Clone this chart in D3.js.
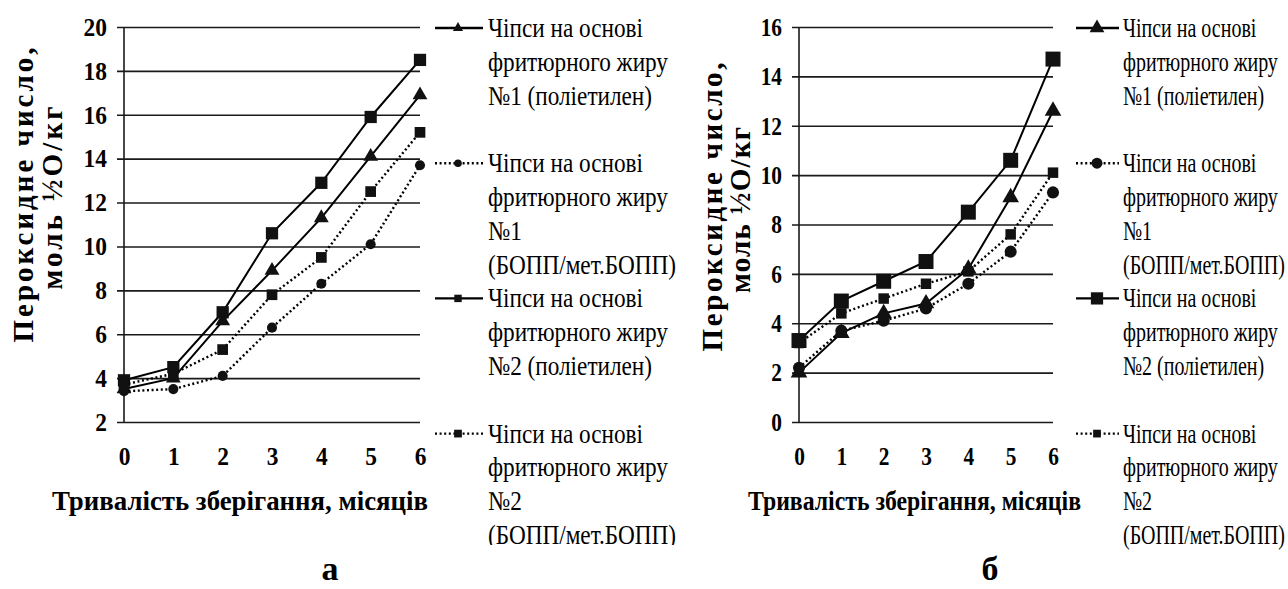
<!DOCTYPE html>
<html>
<head>
    <meta charset="UTF-8">
    <title>Пероксидне число чіпсів</title>
    <script src="https://cdn.jsdelivr.net/npm/d3@7/dist/d3.min.js"></script>
    <style>
        body { margin: 0; background: #fff; }
    </style>
</head>
<body>
<script>
// дані
var months = [0, 1, 2, 3, 4, 5, 6];
var seriesLabels = [
    ["Чіпси на основі", "фритюрного жиру", "№1 (поліетилен)"],
    ["Чіпси на основі", "фритюрного жиру", "№1", "(БОПП/мет.БОПП)"],
    ["Чіпси на основі", "фритюрного жиру", "№2 (поліетилен)"],
    ["Чіпси на основі", "фритюрного жиру", "№2", "(БОПП/мет.БОПП)"]
];
// а
var aFat1PE   = [3.5, 4.0, 6.6, 8.9, 11.3, 14.1, 16.9];
var aFat1BOPP = [3.4, 3.5, 4.1, 6.3, 8.3, 10.1, 13.7];
var aFat2PE   = [3.9, 4.5, 7.0, 10.6, 12.9, 15.9, 18.5];
var aFat2BOPP = [3.7, 4.2, 5.3, 7.8, 9.5, 12.5, 15.2];
// б
var bFat1PE   = [2.0, 3.6, 4.4, 4.8, 6.2, 9.1, 12.6];
var bFat1BOPP = [2.2, 3.7, 4.1, 4.6, 5.6, 6.9, 9.3];
var bFat2PE   = [3.3, 4.9, 5.7, 6.5, 8.5, 10.6, 14.7];
var bFat2BOPP = [3.2, 4.4, 5.0, 5.6, 6.1, 7.6, 10.1];

var aYTicks = [2, 4, 6, 8, 10, 12, 14, 16, 18, 20];
var bYTicks = [0, 2, 4, 6, 8, 10, 12, 14, 16];
var xTitle = "Тривалість зберігання, місяців";
var yTitleLines = ["Пероксидне число,", "моль ½О/кг"];
var panelLetters = ["а", "б"];

var FONT = "'Liberation Serif'";
var width = 1288, height = 589;
var svg = d3.select("body").append("svg")
    .attr("width", width).attr("height", height);

// стиль ліній і маркерів для кожної серії
var styles = [
    {dash: null, sym: d3.symbolTriangle},
    {dash: "2,2.6", sym: d3.symbolCircle},
    {dash: null, sym: d3.symbolSquare},
    {dash: "2,2.6", sym: d3.symbolSquare}
];

var panels = [
    {
        series: [aFat1PE, aFat1BOPP, aFat2PE, aFat2BOPP], ticks: aYTicks,
        x: [124, 420], y: [422, 27], squeeze: 0.9, labelSqueeze: 0.86,
        markSize: [95, 80, 150, 115], legSize: [45, 45, 55, 60],
        yTitle: [{x: 33, y: 195, len: 295}, {x: 62, y: 198, len: 183}],
        xTitle: {x: 52, len: 376}, leg: {x0: 435, x1: 483, mx: 458, tx: 488},
        letterX: 330, clip: 545
    },
    {
        series: [bFat1PE, bFat1BOPP, bFat2PE, bFat2BOPP], ticks: bYTicks,
        x: [799, 1053], y: [422, 27], squeeze: 0.82, labelSqueeze: 0.74,
        markSize: [120, 115, 225, 110], legSize: [95, 95, 150, 60],
        yTitle: [{x: 722, y: 207, len: 289}, {x: 750, y: 210, len: 166}],
        xTitle: {x: 748, len: 333}, leg: {x0: 1076, x1: 1119, mx: 1097, tx: 1123},
        letterX: 990, clip: 589
    }
];

// стискання тексту по горизонталі
function squeeze(sel, k) {
    sel.each(function() {
        var len = this.getComputedTextLength();
        d3.select(this).attr("textLength", len * k).attr("lengthAdjust", "spacingAndGlyphs");
    });
}

function serif(sel, size, bold) {
    sel.style("font-family", FONT)
        .style("font-size", size + "px")
        .style("font-weight", bold ? "bold" : "normal")
        .attr("fill", "#000");
}

panels.forEach(function(p, pi) {
    var x = d3.scaleLinear().domain([0, 6]).range(p.x);
    var y = d3.scaleLinear().domain([p.ticks[0], p.ticks[p.ticks.length - 1]]).range(p.y);
    var g = svg.append("g");

    // сітка + підписи осі Y
    var yAxis = g.append("g")
        .attr("transform", "translate(" + (p.x[0] - 7) + ",0)")
        .call(d3.axisLeft(y).tickValues(p.ticks).tickFormat(d3.format("d"))
            .tickSize(-(p.x[1] - p.x[0] + 7)).tickPadding(10));
    yAxis.attr("font-family", null);
    yAxis.select(".domain").remove();
    yAxis.selectAll("line").attr("stroke", "#1a1a1a").attr("stroke-width", 1.6);
    yAxis.selectAll("text").call(serif, 26, true).call(squeeze, p.squeeze);

    // вертикальна вісь
    g.append("line")
        .attr("x1", p.x[0]).attr("x2", p.x[0])
        .attr("y1", p.y[1]).attr("y2", p.y[0])
        .attr("stroke", "#1a1a1a").attr("stroke-width", 1.6);

    // підписи осі X
    var xAxis = g.append("g")
        .attr("transform", "translate(0," + p.y[0] + ")")
        .call(d3.axisBottom(x).tickValues(months).tickFormat(d3.format("d"))
            .tickSize(0).tickPadding(25));
    xAxis.attr("font-family", null);
    xAxis.select(".domain").remove();
    xAxis.selectAll("text").call(serif, 26, true).call(squeeze, p.squeeze);

    // назви осей
    g.append("text")
        .attr("x", p.xTitle.x).attr("y", 510)
        .call(serif, 28, true)
        .text(xTitle)
        .attr("textLength", p.xTitle.len).attr("lengthAdjust", "spacingAndGlyphs");

    yTitleLines.forEach(function(t, i) {
        var pos = p.yTitle[i];
        g.append("text")
            .attr("transform", "translate(" + pos.x + "," + pos.y + ") rotate(-90)")
            .attr("text-anchor", "middle")
            .call(serif, 29, true)
            .text(t)
            .attr("textLength", pos.len).attr("lengthAdjust", "spacing");
    });

    // лінії серій
    var line = d3.line().x(function(d, i) { return x(months[i]); }).y(function(d) { return y(d); });

    p.series.forEach(function(vals, si) {
        var st = styles[si];
        g.append("path")
            .attr("d", line(vals))
            .attr("fill", "none").attr("stroke", "#000")
            .attr("stroke-width", st.dash ? 2.4 : 2)
            .attr("stroke-dasharray", st.dash);
        g.selectAll(".m" + si).data(vals).enter().append("path")
            .attr("class", "m" + si)
            .attr("transform", function(d, i) { return "translate(" + x(months[i]) + "," + y(d) + ")"; })
            .attr("d", d3.symbol().type(st.sym).size(p.markSize[si]))
            .attr("fill", "#111");
    });

    // легенда
    var clipId = "clip" + pi;
    svg.append("clipPath").attr("id", clipId).append("rect")
        .attr("x", p.leg.x0 - 5).attr("y", 0).attr("width", 300).attr("height", p.clip);
    var leg = svg.append("g").attr("clip-path", "url(#" + clipId + ")");
    var rowH = 33.8, row = 0;
    seriesLabels.forEach(function(lines, si) {
        var st = styles[si];
        var ly = 28 + row * rowH;
        leg.append("line")
            .attr("x1", p.leg.x0).attr("x2", p.leg.x1).attr("y1", ly).attr("y2", ly)
            .attr("stroke", "#000").attr("stroke-width", 2.4)
            .attr("stroke-dasharray", st.dash);
        leg.append("path")
            .attr("transform", "translate(" + p.leg.mx + "," + ly + ")")
            .attr("d", d3.symbol().type(st.sym).size(p.legSize[si]))
            .attr("fill", "#111");
        lines.forEach(function(t, li) {
            leg.append("text")
                .attr("x", p.leg.tx).attr("y", ly + li * rowH + 9)
                .call(serif, 27, false)
                .text(t).call(squeeze, p.labelSqueeze);
        });
        row += 4;
    });

    // літера панелі
    svg.append("text")
        .attr("x", p.letterX).attr("y", 580)
        .attr("text-anchor", "middle")
        .call(serif, 34, true)
        .text(panelLetters[pi]);
});
</script>
</body>
</html>
